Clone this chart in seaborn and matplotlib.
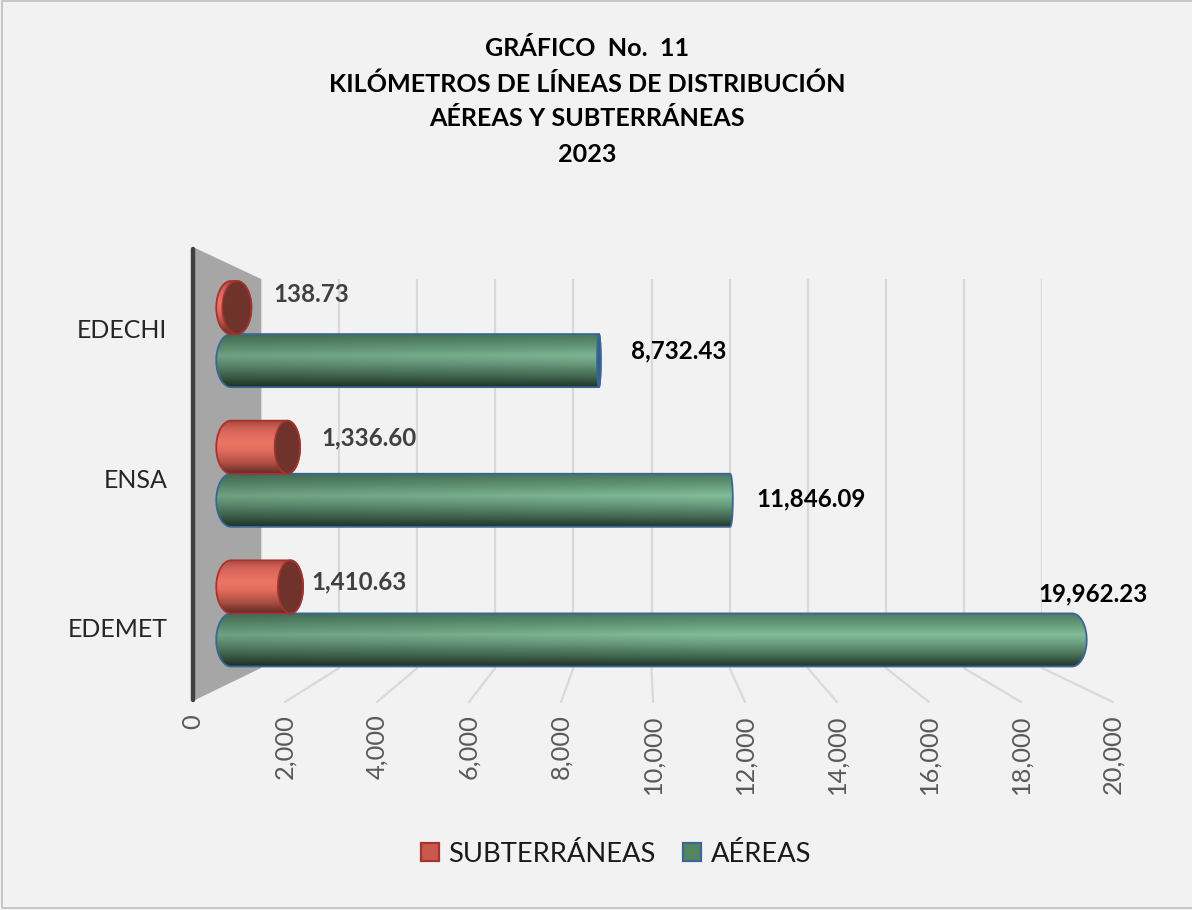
import numpy as np
import pandas as pd
import matplotlib
matplotlib.use('Agg')
import matplotlib.pyplot as plt
from matplotlib.lines import Line2D
from matplotlib.patches import ConnectionPatch, PathPatch, Polygon, Rectangle
from matplotlib.path import Path
import seaborn as sns

companies = ["EDECHI", "ENSA", "EDEMET"]
subterraneas = [138.73, 1336.60, 1410.63]
aereas = [8732.43, 11846.09, 19962.23]
series_names = ["SUBTERRÁNEAS", "AÉREAS"]
x_ticks = list(range(0, 20001, 2000))
title_lines = ["GRÁFICO  No.  11", "KILÓMETROS DE LÍNEAS DE DISTRIBUCIÓN",
               "AÉREAS Y SUBTERRÁNEAS", "2023"]

W, H = 1192, 910
BG = "#f2f2f2"

sns.set_theme(style="white")
plt.rcParams['font.family'] = ['Lato', 'DejaVu Sans']

fig = plt.figure(figsize=(W / 100, H / 100), dpi=100, facecolor=BG)


def px_axes(left, top, right, bottom, **kw):
    return fig.add_axes([left / W, 1 - bottom / H, (right - left) / W, (bottom - top) / H], **kw)


def px(x, y):
    return (x / W, 1 - y / H)


# outer frame, the right side is cut off in the reference
fig.add_artist(Rectangle(px(2, 908), 1200 / W, 907 / H, fill=False, ec="#bfbfbf", lw=1.2,
                         transform=fig.transFigure))

# back wall, floor and side wall sit on their own axes because of the 3D look
ax_back = px_axes(261, 279, 1042, 668, facecolor="none", zorder=1)
ax_back.set_xlim(0, 20000)
ax_back.set_yticks([])
ax_back.set_xticks(x_ticks)
ax_back.set_xticklabels([])
ax_back.grid(axis="x", color="#d9d9d9", lw=1.6)
ax_back.tick_params(length=0)
sns.despine(ax=ax_back, left=True, bottom=True)

ax_front = px_axes(193, 254, 1113, 702, facecolor="none", zorder=2)
ax_front.set_xlim(0, 20000)
ax_front.set_ylim(2.5, -0.5)
ax_front.set_xticks(x_ticks)
ax_front.set_xticklabels([f"{t:,}" for t in x_ticks], rotation=90, fontsize=18.3, color="#595959")
ax_front.set_yticks(range(len(companies)))
ax_front.set_yticklabels(companies, fontsize=18, color="#262626")
ax_front.tick_params(axis="x", length=0, pad=9)
ax_front.tick_params(axis="y", length=0, pad=18.5)
sns.despine(ax=ax_front, left=True, bottom=True)

fig.add_artist(Polygon([px(193, 247), px(261, 279), px(261, 668), px(193, 701)], closed=True,
                       fc="#a6a6a6", ec="none", transform=fig.transFigure, zorder=0.5))
fig.add_artist(Line2D([193 / W, 193 / W], [1 - 249 / H, 1 - 700 / H], color="#404040", lw=3.2,
                      solid_capstyle="round", transform=fig.transFigure, zorder=3))

for t in x_ticks[1:]:
    fig.add_artist(ConnectionPatch(xyA=(t, 0), coordsA=ax_back.get_xaxis_transform(),
                                   xyB=(t, 0), coordsB=ax_front.get_xaxis_transform(),
                                   color="#d9d9d9", lw=1.6))

# bars live on the middle plane between wall and front
df = pd.DataFrame({
    "company": companies * 2,
    "serie": [series_names[0]] * 3 + [series_names[1]] * 3,
    "km": subterraneas + aereas,
})

# axes runs a bit past 0 and 20000 so the round ends are not cut
XMIN, XMAX = -1000, 21000
SCALE = 0.04213
ax = px_axes(231 + XMIN * SCALE, 264.25, 231 + XMAX * SCALE, 683.25, facecolor="none", zorder=5)
colors = {series_names[0]: "#c9594e", series_names[1]: "#53865f"}
sns.barplot(data=df, y="company", x="km", hue="serie", order=companies, hue_order=series_names,
            palette=colors, saturation=1, width=0.76, orient="y", ax=ax, edgecolor="none")
ax.set_xlim(XMIN, XMAX)
ax.set_ylim(2.5, -0.5)
ax.set_xlabel("")
ax.set_ylabel("")
ax.set_xticks([])
ax.set_yticks([])
sns.despine(ax=ax, left=True, bottom=True)

styles = [
    {"stops": ["#a8483e", "#d5645a", "#ee7565", "#e06c5d", "#ad4e43", "#642b25"],
     "edge": "#a5332f", "cap": "#70332c", "z": 8, "shade": (1.0, 1.0)},
    {"stops": ["#4a7a5d", "#5f9474", "#82bd98", "#6b9f80", "#466d55", "#22382a"],
     "edge": "#3a6697", "cap": "#2f5f8c", "z": 6, "shade": (0.85, 1.0)},
]
stop_pos = [0, 0.18, 0.42, 0.58, 0.8, 1]


def half_width(v):
    # the end ellipses narrow towards the vanishing point in the middle of the plot
    return 0.035 * abs(v - 10000)


def arc(cx, cy, rx, ry, a0, a1, n=60):
    a = np.linspace(a0, a1, n)
    return np.column_stack([cx + rx * np.cos(a), cy + ry * np.sin(a)])


def gradient(style, n=120, m=300):
    rgb = np.array([matplotlib.colors.to_rgb(c) for c in style["stops"]])
    t = np.linspace(0, 1, n)
    col = np.stack([np.interp(t, stop_pos, rgb[:, i]) for i in range(3)], axis=1)
    return np.clip(col[:, None, :] * np.ones((n, m, 3)), 0, 1)


for container, style in zip(ax.containers, styles):
    for bar in container:
        v = bar.get_width()
        y0 = bar.get_y()
        h = bar.get_height()
        cy = y0 + h / 2
        rl, rr = half_width(0), half_width(v)
        # y axis is inverted, so sin > 0 goes down on the picture
        left = arc(0, cy, rl, h / 2, np.pi / 2, 3 * np.pi / 2)
        right = arc(v, cy, rr, h / 2, -np.pi / 2, np.pi / 2)
        outline = np.vstack([left, right, left[:1]])
        path = Path(outline, closed=True)
        img = gradient(style)
        # brighter to the right of the cylinder, as with the light in the reference
        shade = np.interp(np.linspace(0, v + rr, img.shape[1]), [0, 12000], style["shade"])
        img = np.clip(img * shade[None, :, None], 0, 1)
        im = ax.imshow(img, extent=(-rl, v + rr, y0 + h, y0), aspect="auto", origin="upper",
                       zorder=style["z"], interpolation="bilinear")
        clip = PathPatch(path, transform=ax.transData, fc="none", ec="none")
        ax.add_patch(clip)
        im.set_clip_path(clip)
        ax.add_patch(PathPatch(path, fc="none", ec=style["edge"], lw=1.3, zorder=style["z"] + 0.1))
        if v < 10000:
            cap = arc(v, cy, rr, h / 2, 0, 2 * np.pi)
            ax.add_patch(Polygon(cap, closed=True, fc=style["cap"], ec=style["edge"], lw=1.2,
                                 zorder=style["z"] + 0.2))

ax.set_xlim(XMIN, XMAX)
ax.set_ylim(2.5, -0.5)

# value labels, offsets in pixels from the top end of the bar
label_offsets = [[(37, -13), (34, -17), (21, -22)], [(32, -17), (26, -25), (-34, 19)]]
label_colors = ["#404040", "#000000"]
for container, offs, col, vals in zip(ax.containers, label_offsets, label_colors, [subterraneas, aereas]):
    for bar, off, val in zip(container, offs, vals):
        ax.annotate(f"{val:,.2f}", xy=(bar.get_width(), bar.get_y()),
                    xytext=off, textcoords="offset pixels", ha="left", va="center",
                    fontsize=17.4, fontweight="bold", color=col, zorder=12, annotation_clip=False)

sns.move_legend(ax, "center", bbox_to_anchor=px(616, 854), bbox_transform=fig.transFigure,
                ncol=2, frameon=False, title=None, fontsize=19.7, handlelength=0.65,
                handleheight=0.65, handletextpad=0.35, columnspacing=1.0)
leg = ax.get_legend()
for handle, style in zip(leg.legend_handles, styles):
    handle.set_edgecolor(style["edge"])
    handle.set_linewidth(1.6)
for txt in leg.get_texts():
    txt.set_color("#1a1a1a")

for line, y in zip(title_lines, [48, 84, 119, 155]):
    fig.text(*px(587, y), line, ha="center", va="center", fontsize=18.1, fontweight="bold",
             color="#000000")

fig.savefig("out.png", dpi=100, facecolor=BG)
